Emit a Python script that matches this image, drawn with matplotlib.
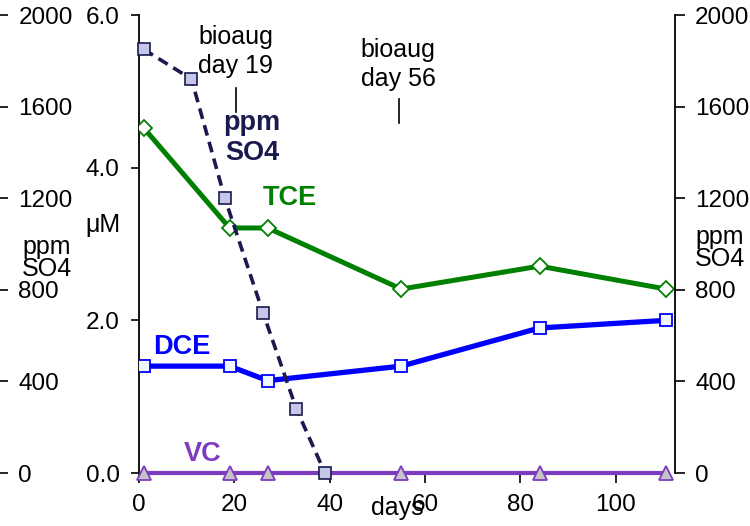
import matplotlib.pyplot as plt

plt.rcParams['font.family'] = ['Liberation Sans', 'DejaVu Sans']
plt.rcParams['font.size'] = 18
plt.rcParams['xtick.labelsize'] = 17.5
plt.rcParams['ytick.labelsize'] = 17.5

# --------------------------------------------------------------------
# data
# --------------------------------------------------------------------
days = [1, 19, 27, 55, 84, 110.5]
tce = [4.52, 3.21, 3.21, 2.41, 2.71, 2.41]
dce = [1.40, 1.40, 1.21, 1.40, 1.90, 2.00]
vc = [0, 0, 0, 0, 0, 0]

so4_days = [1, 11, 18, 26, 33, 39]
so4_ppm = [1850, 1720, 1200, 700, 280, 0]

x_ticks = [0, 20, 40, 60, 80, 100]
um_ticks = [0.0, 2.0, 4.0, 6.0]
ppm_ticks = [0, 400, 800, 1200, 1600, 2000]

# bioaugmentation notes: (text, x, y, line x, line y0, line y1)
notes = [("bioaug\nday 19", 20.3, 5.52, 20.3, 4.73, 5.05),
         ("bioaug\nday 56", 54.3, 5.35, 54.5, 4.59, 4.90)]

NAVY = "#1a1a4e"
GREEN = "#008000"
BLUE = "#0000ff"
PURPLE = "#7d3cc0"

fig = plt.figure(figsize=(7.5, 5.26), dpi=100)
ax = fig.add_axes([139 / 750, 53 / 526, 536 / 750, 458 / 526])

ax.plot(days, tce, color=GREEN, lw=3.6, marker="D", ms=8.5,
        mfc="white", mec=GREEN, mew=1.3, zorder=3)
ax.plot(days, dce, color=BLUE, lw=3.8, marker="s", ms=8,
        mfc="#eef6ff", mec=BLUE, mew=1.3, zorder=3)
ax.plot(days, vc, color=PURPLE, lw=3, marker="^", ms=10,
        mfc="#c4c4c4", mec=PURPLE, mew=1.3, zorder=3, clip_on=False)

ax.set_xlim(0, 112.4)
ax.set_ylim(0, 6)
ax.set_xticks(x_ticks)
ax.set_yticks(um_ticks)
ax.set_yticklabels([f"{v:.1f}" for v in um_ticks])
ax.tick_params(axis="y", direction="out", length=6, width=1.2, pad=8)
ax.tick_params(axis="x", direction="out", length=7, width=1.2, pad=8)
for s in ("top", "right", "bottom"):
    ax.spines[s].set_visible(False)
ax.spines["left"].set_linewidth(1.3)

# sulfate on the right scale
ax2 = ax.twinx()
ax2.plot(so4_days, so4_ppm, color=NAVY, lw=2.6, ls=(0, (3, 1.8)),
         marker="s", ms=8, mfc="#c6c6e8", mec=NAVY, mew=1.2, zorder=4,
         clip_on=False)
ax2.set_ylim(0, 2000)
ax2.set_yticks(ppm_ticks)
ax2.tick_params(axis="y", direction="out", length=7, width=1.2, pad=7.5)
for s in ("top", "left", "bottom"):
    ax2.spines[s].set_visible(False)
ax2.spines["right"].set_linewidth(1.3)

# the outer left ppm scale (ticks only)
ax3 = ax.twinx()
ax3.set_ylim(0, 2000)
ax3.set_yticks(ppm_ticks)
ax3.spines["right"].set_position(("axes", (8 - 139) / 536))
for s in ax3.spines.values():
    s.set_visible(False)
ax3.tick_params(axis="y", direction="in", length=8, width=1.2, pad=7.5)

for txt, tx, ty, lx, ly0, ly1 in notes:
    ax.text(tx, ty, txt, ha="center", va="center", linespacing=1.3)
    ax.plot([lx, lx], [ly0, ly1], color="black", lw=1.2)

bold = dict(fontweight="bold", fontsize=19.5, ha="center", va="center")
ax.text(23.7, 4.39, "ppm\nSO4", color=NAVY, linespacing=1.2, **bold)
ax.text(31.7, 3.60, "TCE", color=GREEN, **bold)
ax.text(9.0, 1.65, "DCE", color=BLUE, **bold)
ax.text(13.4, 0.25, "VC", color=PURPLE, **bold)
ax.text(54.1, -0.46, "days", ha="center", va="center", clip_on=False)

fig.text(103 / 750, 1 - 225 / 526, "μM", ha="center", va="center")
fig.text(22 / 750, 1 - 258 / 526, "ppm\nSO4", ha="left", va="center", linespacing=0.9)
fig.text(695 / 750, 1 - 248 / 526, "ppm\nSO4", ha="left", va="center", linespacing=0.9)

fig.savefig("out.png", dpi=100)
